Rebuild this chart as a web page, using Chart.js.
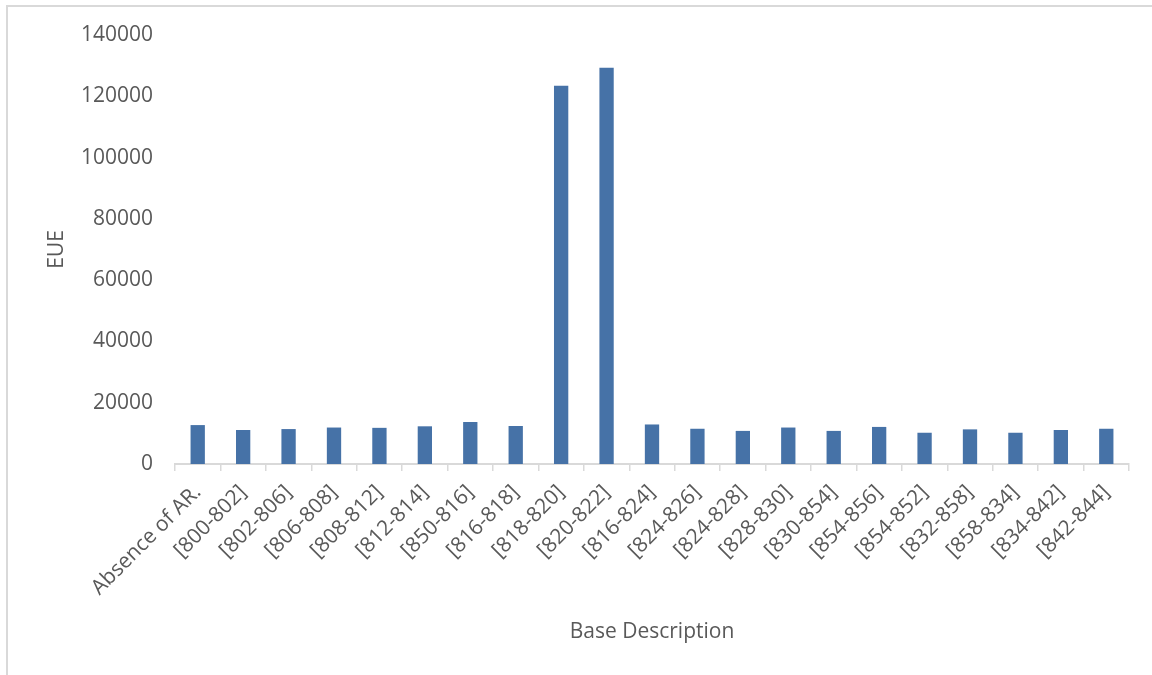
<!DOCTYPE html>
<html>
<head>
<meta charset="utf-8">
<title>EUE by Base Description</title>
<script src="https://cdn.jsdelivr.net/npm/chart.js@4.4.1/dist/chart.umd.min.js"></script>
<style>
  html, body { margin: 0; padding: 0; background: #ffffff; }
  #wrap { position: relative; width: 1152px; height: 675px; }
</style>
</head>
<body>
<div id="wrap"><canvas id="chart" width="1152" height="675"></canvas></div>
<script>
// Categories along the x axis
const categories = [
  'Absence of AR.', '[800-802]', '[802-806]', '[806-808]', '[808-812]',
  '[812-814]', '[850-816]', '[816-818]', '[818-820]', '[820-822]',
  '[816-824]', '[824-826]', '[824-828]', '[828-830]', '[830-854]',
  '[854-856]', '[854-852]', '[832-858]', '[858-834]', '[834-842]',
  '[842-844]'
];

// EUE for each base description
const eueValues = [
  12700, 11100, 11400, 11900, 11800,
  12300, 13700, 12400, 123400, 129300,
  12900, 11500, 10800, 11900, 10800,
  12100, 10200, 11300, 10200, 11100,
  11500
];

// Value axis range and ticks
const yMin = 0;
const yMax = 140000;
const yStep = 20000;

const textColor = '#595959';
const lineColor = '#d9d9d9';
const barColor = '#4672a7';
const fontFamily = '"Open Sans", "Noto Sans", sans-serif';

// Thin frame along the top and left edges of the chart
const framePlugin = {
  id: 'frame',
  beforeDraw(chart) {
    const ctx = chart.ctx;
    ctx.save();
    ctx.strokeStyle = lineColor;
    ctx.lineWidth = 2;
    ctx.beginPath();
    ctx.moveTo(7, chart.height);
    ctx.lineTo(7, 6);
    ctx.lineTo(chart.width, 6);
    ctx.stroke();
    ctx.restore();
  }
};

new Chart(document.getElementById('chart'), {
  type: 'bar',
  data: {
    labels: categories,
    datasets: [{
      label: 'EUE',
      data: eueValues,
      backgroundColor: barColor,
      borderWidth: 0,
      categoryPercentage: 1.0,
      barPercentage: 0.315
    }]
  },
  options: {
    responsive: false,
    animation: false,
    devicePixelRatio: 1,
    layout: { padding: { left: 0, top: 35, right: 23, bottom: 0 } },
    plugins: {
      legend: { display: false },
      tooltip: { enabled: false }
    },
    scales: {
      x: {
        grid: {
          display: true,
          drawOnChartArea: false,
          drawTicks: true,
          tickLength: 7,
          color: lineColor,
          lineWidth: 1.5
        },
        border: { display: true, color: lineColor, width: 2 },
        ticks: {
          color: textColor,
          font: { family: fontFamily, size: 21 },
          minRotation: 45,
          maxRotation: 45,
          autoSkip: false,
          padding: 9
        },
        title: {
          display: true,
          text: 'Base Description',
          color: textColor,
          font: { family: fontFamily, size: 21 },
          padding: { top: 0, bottom: 30 }
        },
        afterFit(scale) { scale.height = 211; }
      },
      y: {
        min: yMin,
        max: yMax,
        grid: { display: false, drawTicks: false },
        border: { display: false },
        ticks: {
          stepSize: yStep,
          color: textColor,
          font: { family: fontFamily, size: 21 },
          padding: 22,
          callback: (v) => String(v)
        },
        title: {
          display: true,
          text: 'EUE',
          color: textColor,
          font: { family: fontFamily, size: 21 },
          padding: { top: 44, bottom: 0 }
        },
        afterFit(scale) { scale.width = 175; }
      }
    }
  },
  plugins: [framePlugin]
});
</script>
</body>
</html>
